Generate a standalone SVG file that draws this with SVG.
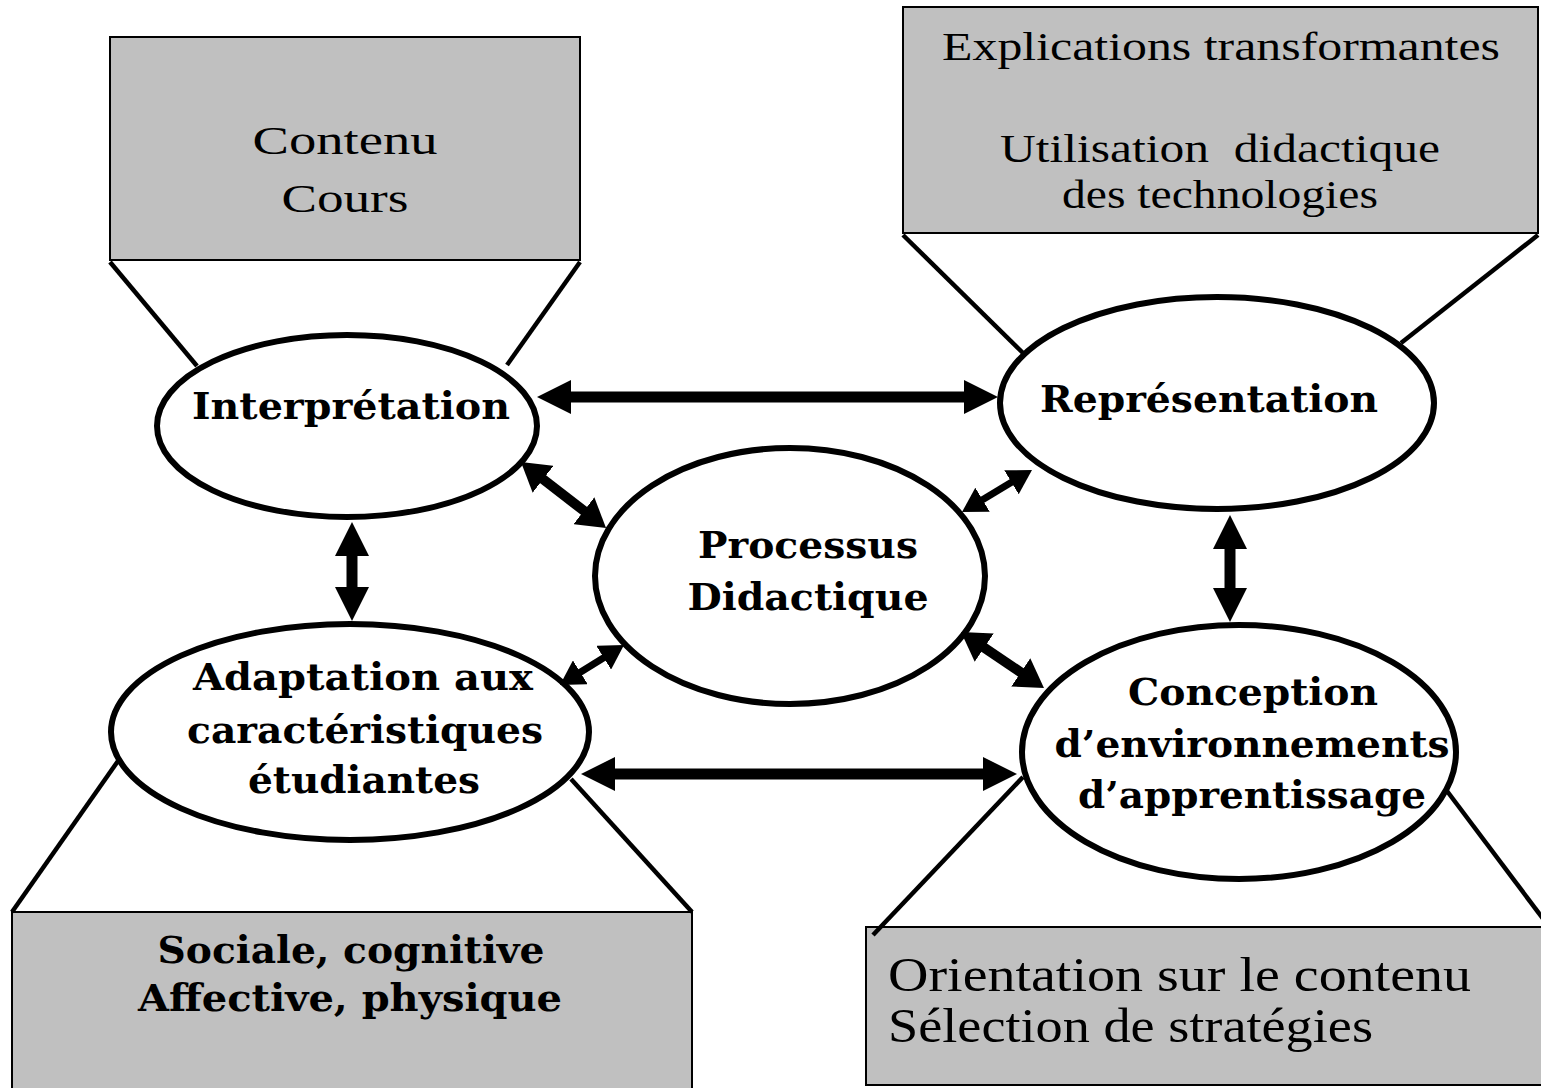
<svg xmlns="http://www.w3.org/2000/svg" width="1541" height="1088" viewBox="0 0 1541 1088">
<style>
.box{fill:#c0c0c0;stroke:#000;stroke-width:2}
.fun{stroke:#000;stroke-width:4.5;fill:none}
.ell{fill:#fff;stroke:#000;stroke-width:6}
.b{font-family:"DejaVu Serif",serif;font-weight:bold;font-size:38px;fill:#000;text-anchor:middle}
.r{font-family:"Liberation Serif",serif;font-size:40px;fill:#000;text-anchor:middle;white-space:pre}
.rl{font-family:"Liberation Serif",serif;font-size:49px;fill:#000;text-anchor:start}
.a{stroke:#000;stroke-width:11;fill:none}
.am{stroke:#000;stroke-width:10;fill:none}
.as{stroke:#000;stroke-width:7;fill:none}
</style>
<defs>
<marker id="ah" viewBox="0 0 34 34" refX="1" refY="17" markerWidth="34" markerHeight="34" markerUnits="userSpaceOnUse" orient="auto-start-reverse"><path d="M0,0 L34,17 L0,34 z" fill="#000"/></marker>
<marker id="ahm" viewBox="0 0 28 34" refX="1" refY="17" markerWidth="28" markerHeight="34" markerUnits="userSpaceOnUse" orient="auto-start-reverse"><path d="M0,0 L28,17 L0,34 z" fill="#000"/></marker>
<marker id="ahs" viewBox="0 0 24 28" refX="1" refY="14" markerWidth="24" markerHeight="28" markerUnits="userSpaceOnUse" orient="auto-start-reverse"><path d="M0,0 L24,14 L0,28 z" fill="#000"/></marker>
</defs>
<rect width="1541" height="1088" fill="#fff"/>

<g id="box-contenu">
<rect class="box" x="110" y="37" width="470" height="223"/>
<text class="r" x="345" y="154" font-size="50" textLength="185" lengthAdjust="spacingAndGlyphs">Contenu</text>
<text class="r" x="345" y="212" font-size="50" textLength="127" lengthAdjust="spacingAndGlyphs">Cours</text>
<line class="fun" x1="110" y1="262" x2="197" y2="366"/>
<line class="fun" x1="580" y1="262" x2="507" y2="365"/>
</g>

<g id="box-explications">
<rect class="box" x="903" y="7" width="635" height="226"/>
<text class="r" x="1221" y="60" textLength="558" lengthAdjust="spacingAndGlyphs">Explications transformantes</text>
<text class="r" x="1220" y="162" textLength="440" lengthAdjust="spacingAndGlyphs">Utilisation  didactique</text>
<text class="r" x="1220" y="208" textLength="316" lengthAdjust="spacingAndGlyphs">des technologies</text>
<line class="fun" x1="903" y1="235" x2="1023" y2="353"/>
<line class="fun" x1="1538" y1="235" x2="1401" y2="343"/>
</g>

<g id="box-sociale">
<rect class="box" x="12" y="912" width="680" height="190"/>
<text class="b" x="351" y="963" textLength="387" lengthAdjust="spacingAndGlyphs">Sociale, cognitive</text>
<text class="b" x="350" y="1011" textLength="424" lengthAdjust="spacingAndGlyphs">Affective, physique</text>
<line class="fun" x1="118" y1="761" x2="12" y2="912"/>
<line class="fun" x1="571" y1="779" x2="692" y2="912"/>
</g>

<g id="box-orientation">
<rect class="box" x="866" y="927" width="690" height="158"/>
<text class="rl" x="888" y="991" textLength="583" lengthAdjust="spacingAndGlyphs">Orientation sur le contenu</text>
<text class="rl" x="888" y="1042" textLength="485" lengthAdjust="spacingAndGlyphs">Sélection de stratégies</text>
<line class="fun" x1="1023" y1="777" x2="873" y2="935"/>
<line class="fun" x1="1447" y1="791" x2="1550" y2="928"/>
</g>

<g id="node-interpretation">
<ellipse class="ell" cx="347" cy="426" rx="190" ry="91"/>
<text class="b" x="351" y="419" textLength="318" lengthAdjust="spacingAndGlyphs">Interprétation</text>
</g>

<g id="node-representation">
<ellipse class="ell" cx="1217" cy="403" rx="217" ry="106"/>
<text class="b" x="1209" y="412" textLength="338" lengthAdjust="spacingAndGlyphs">Représentation</text>
</g>

<g id="node-processus">
<ellipse class="ell" cx="790" cy="576" rx="195" ry="128"/>
<text class="b" x="808" y="558" textLength="220" lengthAdjust="spacingAndGlyphs">Processus</text>
<text class="b" x="808" y="610" textLength="241" lengthAdjust="spacingAndGlyphs">Didactique</text>
</g>

<g id="node-adaptation">
<ellipse class="ell" cx="350" cy="732" rx="239" ry="108"/>
<text class="b" x="363" y="690" textLength="340" lengthAdjust="spacingAndGlyphs">Adaptation aux</text>
<text class="b" x="365" y="743" textLength="356" lengthAdjust="spacingAndGlyphs">caractéristiques</text>
<text class="b" x="364" y="793" textLength="232" lengthAdjust="spacingAndGlyphs">étudiantes</text>
</g>

<g id="node-conception">
<ellipse class="ell" cx="1239" cy="752" rx="217" ry="127"/>
<text class="b" x="1253" y="705" textLength="250" lengthAdjust="spacingAndGlyphs">Conception</text>
<text class="b" x="1252" y="757" textLength="395" lengthAdjust="spacingAndGlyphs">d’environnements</text>
<text class="b" x="1252" y="808" textLength="348" lengthAdjust="spacingAndGlyphs">d’apprentissage</text>
</g>

<g id="connectors">
<line class="a" x1="570" y1="397" x2="965" y2="397" marker-start="url(#ah)" marker-end="url(#ah)"/>
<line class="a" x1="614" y1="774" x2="984" y2="774" marker-start="url(#ah)" marker-end="url(#ah)"/>
<line class="a" x1="352" y1="555" x2="352" y2="588" marker-start="url(#ah)" marker-end="url(#ah)"/>
<line class="a" x1="1230" y1="548" x2="1230" y2="589" marker-start="url(#ah)" marker-end="url(#ah)"/>
<line class="am" x1="542.3" y1="478.6" x2="584.7" y2="511.4" marker-start="url(#ahm)" marker-end="url(#ahm)"/>
<line class="am" x1="983.4" y1="647.1" x2="1021.6" y2="672.9" marker-start="url(#ahm)" marker-end="url(#ahm)"/>
<line class="as" x1="981.7" y1="500.2" x2="1012.3" y2="481.8" marker-start="url(#ahs)" marker-end="url(#ahs)"/>
<line class="as" x1="579.5" y1="672.8" x2="604.5" y2="657.2" marker-start="url(#ahs)" marker-end="url(#ahs)"/>
</g>
</svg>
